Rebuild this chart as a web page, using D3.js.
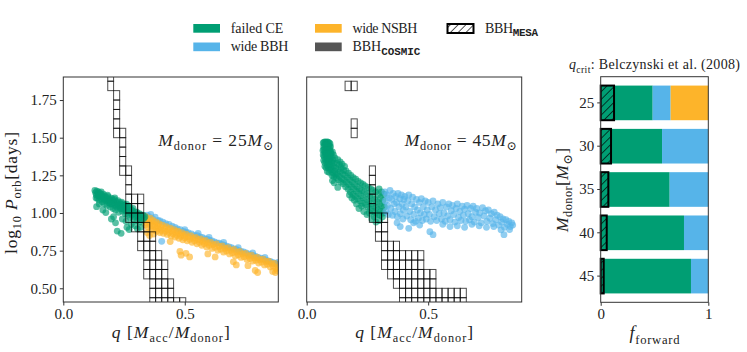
<!DOCTYPE html>
<html><head><meta charset="utf-8">
<script src="https://cdn.jsdelivr.net/npm/d3@7"></script>
<style>
body{margin:0;background:#fff}
text{fill:#222}
</style></head>
<body><svg id="chart" width="747" height="352"></svg>
<script>
// ---------------- DATA ----------------
const donorMasses = ["25","30","35","40","45"];
const fracMESA     = [0.124,0.096,0.071,0.056,0.028];
const fracFailedCE = [0.483,0.570,0.641,0.774,0.839];
const fracWideBBH  = [0.167,0.430,0.359,0.226,0.161];
const fracWideNSBH = [0.350,0.000,0.000,0.000,0.000];

const yTicksP = [0.50,0.75,1.00,1.25,1.50,1.75];
const yTickLabelsP = ["0.50","0.75","1.00","1.25","1.50","1.75"];
const xTicksQ = [0.0,0.5];
const xTickLabelsQ = ["0.0","0.5"];
const xTicksF = [0,1];
const xTickLabelsF = ["0","1"];

// M_donor = 25 Msun scatter [q, log10 P]
const m25FailedCE = [[0.130,1.150],[0.133,1.135],[0.136,1.120],[0.138,1.145],[0.140,1.100],[0.142,1.128],[0.145,1.140],[0.147,1.085],[0.150,1.112],[0.152,1.130],[0.137,1.042],[0.148,1.060],
[0.155,1.098],[0.158,1.120],[0.160,1.075],[0.163,1.108],[0.165,1.125],[0.168,1.090],[0.170,1.060],[0.172,1.112],[0.175,1.080],[0.178,1.100],[0.180,1.050],[0.183,1.085],[0.185,1.108],[0.188,1.068],[0.190,1.092],[0.193,1.040],[0.195,1.078],[0.198,1.098],[0.163,1.020],[0.175,1.003],
[0.200,1.060],[0.203,1.085],[0.205,1.030],[0.208,1.070],[0.210,1.090],[0.213,1.050],[0.215,1.020],[0.218,1.075],[0.220,1.040],[0.223,1.062],[0.225,1.082],[0.228,1.005],[0.230,1.048],[0.233,1.068],[0.235,1.030],[0.238,1.055],[0.240,1.072],[0.243,1.012],[0.245,1.040],[0.248,1.060],[0.207,0.975],[0.215,0.935],[0.238,0.865],[0.222,0.880],[0.198,0.960],[0.243,0.960],
[0.250,1.025],[0.253,1.050],[0.255,0.995],[0.258,1.035],[0.260,1.058],[0.263,1.015],[0.265,0.985],[0.268,1.040],[0.270,1.010],[0.273,1.030],[0.275,0.970],[0.278,1.000],[0.280,1.022],[0.283,0.990],[0.285,1.012],[0.288,0.960],[0.290,0.995],[0.293,1.008],[0.296,0.975],[0.300,0.990],[0.303,0.950],[0.306,0.982],[0.310,0.965],[0.313,0.995],[0.316,0.940],[0.320,0.975],[0.324,0.955],[0.328,0.985],[0.332,0.965],[0.336,0.975],[0.262,0.905],[0.271,0.890],[0.280,0.925],[0.295,0.915],[0.305,0.895],[0.318,0.905],[0.258,0.945],
[0.135,1.100],[0.144,1.115],[0.156,1.140],[0.167,1.100],[0.182,1.118],[0.196,1.060],[0.212,1.100],[0.227,1.050],[0.242,1.030],[0.257,1.015],[0.272,1.045],[0.287,1.030],[0.302,1.005],[0.318,0.988]];

const m25WideBBH = [[0.345,0.985],[0.352,0.975],[0.360,0.990],[0.368,0.962],[0.378,0.972],[0.390,0.950],[0.405,0.812],[0.398,0.948],[0.410,0.940],[0.422,0.930],[0.435,0.925],[0.448,0.912],[0.460,0.905],[0.470,0.895],[0.482,0.890],[0.495,0.878],[0.505,0.872],[0.515,0.868],[0.528,0.862],[0.540,0.852],[0.552,0.850],[0.562,0.842],[0.572,0.838],[0.582,0.830],[0.592,0.826],[0.602,0.820],[0.612,0.815],[0.622,0.808],[0.632,0.802],[0.642,0.800],[0.652,0.792],[0.662,0.786],[0.672,0.780],[0.682,0.775],[0.692,0.770],[0.702,0.762],[0.712,0.758],[0.722,0.752],[0.732,0.745],[0.742,0.742],[0.752,0.735],[0.762,0.728],[0.772,0.722],[0.782,0.718],[0.792,0.712],[0.802,0.705],[0.812,0.700],[0.822,0.695],[0.832,0.688],[0.842,0.682],[0.852,0.678],[0.862,0.672],[0.872,0.665],[0.880,0.660],[0.884,0.672],[0.600,0.838],[0.660,0.805],[0.720,0.770],[0.780,0.735],[0.830,0.705],[0.555,0.865],[0.500,0.890]];

const m25WideNSBH = [[0.335,0.950],[0.338,0.920],[0.340,0.975],[0.343,0.935],[0.346,0.960],[0.349,0.905],[0.352,0.945],[0.355,0.925],[0.358,0.965],[0.361,0.895],[0.364,0.940],[0.367,0.915],[0.370,0.950],[0.373,0.885],[0.376,0.925],[0.379,0.905],[0.382,0.940],[0.385,0.880],[0.388,0.915],[0.391,0.895],[0.394,0.930],[0.397,0.870],[0.400,0.905],[0.404,0.885],[0.408,0.920],[0.412,0.865],[0.416,0.898],[0.420,0.878],[0.424,0.910],[0.428,0.858],[0.432,0.890],[0.436,0.870],[0.440,0.900],[0.444,0.848],[0.448,0.880],[0.452,0.862],[0.456,0.890],[0.460,0.840],[0.464,0.872],[0.468,0.852],[0.472,0.880],[0.476,0.832],[0.480,0.862],[0.484,0.845],[0.488,0.870],[0.492,0.822],[0.496,0.852],[0.500,0.835],[0.505,0.860],[0.510,0.815],[0.515,0.842],[0.520,0.825],[0.525,0.850],[0.530,0.805],[0.535,0.832],[0.540,0.815],[0.545,0.838],[0.550,0.795],[0.555,0.822],[0.560,0.805],[0.565,0.828],[0.570,0.785],[0.575,0.812],[0.580,0.795],[0.585,0.818],[0.590,0.775],[0.595,0.800],[0.600,0.785],[0.606,0.806],[0.612,0.765],[0.618,0.790],[0.624,0.772],[0.630,0.795],[0.636,0.752],[0.642,0.778],[0.648,0.760],[0.654,0.782],[0.660,0.740],[0.666,0.765],[0.672,0.748],[0.678,0.770],[0.684,0.728],[0.690,0.752],[0.696,0.735],[0.702,0.758],[0.708,0.715],[0.714,0.740],[0.720,0.722],[0.726,0.745],[0.732,0.705],[0.738,0.728],[0.744,0.710],[0.750,0.732],[0.756,0.692],[0.762,0.715],[0.768,0.698],[0.774,0.720],[0.780,0.680],[0.786,0.702],[0.792,0.686],[0.798,0.706],[0.804,0.668],[0.810,0.690],[0.816,0.674],[0.822,0.694],[0.828,0.655],[0.834,0.678],[0.840,0.660],[0.846,0.680],[0.852,0.642],[0.858,0.664],[0.864,0.648],[0.870,0.665],[0.876,0.630],[0.880,0.618],[0.884,0.640],[0.873,0.605],[0.862,0.612],
[0.345,0.870],[0.372,0.860],[0.480,0.745],[0.485,0.720],[0.505,0.732],[0.520,0.708],[0.595,0.728],[0.700,0.676],[0.712,0.655],[0.790,0.618],[0.800,0.605],[0.355,0.850],[0.440,0.810],[0.625,0.708],[0.760,0.650]];

// M_donor = 45 Msun scatter [q, log10 P]
const m45FailedCE = [[0.068,1.465],[0.072,1.470],[0.076,1.472],[0.080,1.468],[0.084,1.472],[0.088,1.470],[0.092,1.465],[0.096,1.460],[0.070,1.440],[0.074,1.450],[0.078,1.445],[0.082,1.450],[0.086,1.442],[0.090,1.448],[0.094,1.440],[0.098,1.440],[0.067,1.415],[0.071,1.420],[0.075,1.405],[0.079,1.420],[0.083,1.410],[0.087,1.420],[0.091,1.415],[0.095,1.420],[0.099,1.405],[0.068,1.385],[0.072,1.375],[0.076,1.390],[0.080,1.380],[0.084,1.390],[0.088,1.375],[0.092,1.390],[0.096,1.380],[0.100,1.395],[0.070,1.350],[0.074,1.335],[0.078,1.355],[0.082,1.340],[0.086,1.355],[0.090,1.340],[0.094,1.355],[0.098,1.345],[0.102,1.370],[0.075,1.310],[0.080,1.300],[0.085,1.315],[0.090,1.300],[0.095,1.320],[0.100,1.305],[0.104,1.335],[0.108,1.350],[0.085,1.275],[0.092,1.270],[0.098,1.285],[0.104,1.290],[0.110,1.310],[0.112,1.330],[0.116,1.365],[0.106,1.405],[0.110,1.385],
[0.104,1.250],[0.108,1.265],[0.112,1.240],[0.116,1.280],[0.120,1.300],[0.124,1.330],[0.128,1.355],[0.118,1.255],[0.122,1.235],[0.126,1.260],[0.130,1.290],[0.134,1.320],[0.138,1.340],[0.130,1.220],[0.134,1.245],[0.138,1.275],[0.142,1.300],[0.146,1.325],[0.140,1.205],[0.144,1.230],[0.148,1.260],[0.152,1.285],[0.156,1.310],[0.150,1.195],[0.154,1.220],[0.158,1.250],[0.162,1.280],[0.160,1.175],[0.113,1.200],[0.128,1.170],[0.106,1.215],
[0.164,1.205],[0.168,1.235],[0.172,1.265],[0.170,1.160],[0.174,1.190],[0.178,1.220],[0.182,1.250],[0.180,1.140],[0.184,1.175],[0.188,1.205],[0.192,1.235],[0.190,1.125],[0.194,1.160],[0.198,1.190],[0.202,1.225],[0.200,1.110],[0.204,1.145],[0.208,1.175],[0.212,1.210],[0.210,1.095],[0.214,1.130],[0.218,1.160],[0.222,1.200],[0.220,1.080],[0.224,1.115],[0.228,1.150],[0.232,1.190],[0.230,1.065],[0.234,1.100],[0.238,1.140],[0.240,1.180],[0.186,1.100],[0.205,1.060],[0.226,1.046],[0.176,1.120],[0.196,1.085],[0.215,1.030],
[0.242,1.055],[0.246,1.090],[0.250,1.130],[0.254,1.170],[0.252,1.040],[0.256,1.075],[0.260,1.115],[0.264,1.160],[0.262,1.025],[0.266,1.060],[0.270,1.100],[0.274,1.150],[0.272,1.010],[0.276,1.045],[0.280,1.090],[0.284,1.140],[0.282,1.000],[0.286,1.035],[0.290,1.075],[0.294,1.120],[0.298,1.160],[0.292,0.990],[0.296,1.020],[0.300,1.060],[0.304,1.100],[0.308,1.140],[0.302,0.985],[0.306,1.010],[0.310,1.045],[0.314,1.085],[0.318,1.125],[0.312,0.975],[0.316,1.000],[0.320,1.040],[0.248,0.990],[0.268,0.960],[0.285,0.940],[0.300,0.950],[0.258,1.000],[0.278,0.975],[0.235,1.010]];

const m45WideBBH = [[0.322,1.140],[0.324,1.080],[0.326,1.010],[0.330,1.120],[0.333,1.050],[0.336,0.990],[0.340,1.100],[0.343,1.150],[0.346,1.030],[0.350,1.090],[0.353,0.985],[0.356,1.130],[0.360,1.060],[0.363,1.010],[0.366,1.110],[0.370,1.070],[0.373,0.975],[0.376,1.130],[0.380,1.040],[0.383,1.095],[0.386,0.995],[0.390,1.120],[0.393,1.060],[0.396,0.960],[0.400,1.090],[0.372,0.935],[0.385,0.910],[0.398,1.020],
[0.404,1.110],[0.408,1.040],[0.412,0.980],[0.416,1.080],[0.420,1.120],[0.424,1.010],[0.428,0.955],[0.432,1.060],[0.436,1.105],[0.440,0.990],[0.444,1.040],[0.448,0.945],[0.452,1.090],[0.456,1.020],[0.460,0.965],[0.464,1.070],[0.468,1.000],[0.472,1.095],[0.476,0.950],[0.480,1.040],[0.484,0.990],[0.488,1.080],[0.492,0.960],[0.496,1.020],[0.420,0.898],[0.440,0.935],[0.465,0.920],
[0.500,1.070],[0.505,0.990],[0.510,0.945],[0.515,1.040],[0.520,1.080],[0.525,0.975],[0.530,1.020],[0.535,0.950],[0.540,1.060],[0.545,0.995],[0.550,1.035],[0.555,0.960],[0.560,1.070],[0.565,1.000],[0.570,0.945],[0.575,1.040],[0.580,0.980],[0.585,1.060],[0.590,0.955],[0.595,1.015],[0.507,0.876],[0.520,0.856],[0.560,0.925],[0.590,0.910],
[0.600,1.050],[0.605,0.990],[0.610,0.940],[0.615,1.030],[0.620,1.060],[0.625,0.970],[0.630,1.010],[0.635,0.950],[0.640,1.045],[0.645,0.985],[0.650,1.025],[0.655,0.945],[0.660,1.050],[0.665,0.995],[0.670,0.955],[0.675,1.030],[0.680,0.975],[0.685,1.045],[0.690,0.940],[0.695,1.005],[0.620,0.915],[0.650,0.905],[0.680,0.925],
[0.700,1.030],[0.706,0.970],[0.712,1.000],[0.718,0.935],[0.724,1.035],[0.730,0.980],[0.736,1.015],[0.742,0.945],[0.748,1.020],[0.754,0.965],[0.760,0.995],[0.766,0.930],[0.772,1.005],[0.778,0.955],[0.784,0.985],[0.790,0.920],[0.796,0.975],[0.802,0.940],[0.808,0.960],[0.814,0.905],[0.820,0.955],[0.826,0.925],[0.832,0.945],[0.838,0.910],[0.844,0.935],[0.848,0.920],[0.812,0.856],[0.800,0.888],[0.770,0.910],[0.740,0.905],[0.710,0.915],[0.835,0.890]];

// COSMIC BBH 2D histogram: q bin edges, log10 P bin height, occupied rows [pLow, firstBin, lastBin]
const cosmicPBin = 0.0625;
const cosmic25QEdges = [0.183,0.207,0.232,0.257,0.281,0.306,0.331,0.356,0.380,0.405,0.430,0.454,0.479,0.504];
const cosmic25Rows = [[0.375,7,12],[0.4375,7,10],[0.5,7,10],[0.5625,6,9],[0.625,6,9],[0.6875,6,8],[0.75,5,7],[0.8125,5,7],[0.875,4,6],[0.9375,3,5],[1.0,3,5],[1.0625,3,5],[1.125,3,3],[1.1875,3,3],[1.25,2,3],[1.3125,2,2],[1.375,2,2],[1.4375,2,2],[1.5,1,2],[1.5625,1,1],[1.625,1,1],[1.6875,1,1],[1.75,1,1],[1.8125,0,0],[1.875,0,0]];
const cosmic45QEdges = [0.158,0.183,0.208,0.233,0.258,0.283,0.308,0.333,0.357,0.382,0.407,0.432,0.457,0.482,0.507,0.532,0.557,0.582,0.607,0.632,0.657];
const cosmic45Rows = [[0.375,9,19],[0.4375,9,19],[0.5,8,14],[0.5625,7,14],[0.625,6,12],[0.6875,6,12],[0.75,6,8],[0.8125,5,6],[0.875,5,6],[0.9375,4,6],[1.0,4,4],[1.0625,4,4],[1.125,4,4],[1.1875,4,4],[1.25,4,4],[1.5,1,1],[1.5625,1,1],[1.8125,0,1]];

// ---------------- STYLE ----------------
const C_GREEN="#009E73", C_BLUE="#56B4E9", C_ORANGE="#FDB42A", C_GREY="#555555", C_AX="#333";
const SERIF="'Liberation Serif','DejaVu Serif',serif";
const MONO="'Liberation Mono','DejaVu Sans Mono',monospace";

const svg = d3.select("#chart");
const defs = svg.append("defs");
const pat = defs.append("pattern").attr("id","hatch").attr("patternUnits","userSpaceOnUse")
  .attr("width",5.5).attr("height",5.5).attr("patternTransform","rotate(45)");
pat.append("line").attr("x1",0).attr("y1",0).attr("x2",0).attr("y2",5.5).attr("stroke","#000").attr("stroke-width",1.3);

function rich(sel, parts, size, len){
  sel.attr("font-family",SERIF).attr("fill","#222");
  let sub=false;
  parts.forEach(p=>{
    const ts = sel.append("tspan").text(p.t).attr("font-family",p.mono?MONO:SERIF);
    const isSub=!!p.sub;
    if(isSub!==sub){ ts.attr("dy", isSub? size*0.25 : -size*0.25); sub=isSub; }
    ts.attr("font-size", isSub? size*(p.mono?0.78:0.7) : size);
    if(p.i) ts.attr("font-style","italic");
    if(p.mono) ts.attr("font-weight","bold");
  });
  if(len) sel.attr("textLength",len).attr("lengthAdjust","spacing");
  return sel;
}
function styleTicks(a){
  a.attr("font-family",SERIF);
  a.select(".domain").remove();
  a.selectAll("line").attr("stroke",C_AX);
  a.selectAll("text").attr("font-size",15).attr("fill","#222").attr("font-family",SERIF);
}

// ---------------- SCATTER PANELS ----------------
const yP = d3.scaleLinear().domain([0.409,1.903]).range([302,77]);
function scatterPanel(id, x0, x1, sets, hist, showY, annotation, annLen){
  const x = d3.scaleLinear().domain([0,0.885]).range([x0,x1]);
  const g = svg.append("g");
  defs.append("clipPath").attr("id","clip"+id).append("rect")
    .attr("x",x0).attr("y",77).attr("width",x1-x0).attr("height",225);
  const pg = g.append("g").attr("clip-path","url(#clip"+id+")");
  sets.forEach(s=>{
    pg.append("g").selectAll("circle").data(s.data).join("circle")
      .attr("cx",d=>x(d[0])).attr("cy",d=>yP(d[1])).attr("r",3.4)
      .attr("fill",s.color).attr("fill-opacity",0.65);
  });
  const cells=[];
  hist.rows.forEach(r=>{ for(let k=r[1];k<=r[2];k++) cells.push({q0:hist.edges[k],q1:hist.edges[k+1],p0:r[0],p1:r[0]+cosmicPBin}); });
  pg.append("g").selectAll("rect").data(cells).join("rect")
    .attr("x",d=>x(d.q0)).attr("width",d=>x(d.q1)-x(d.q0))
    .attr("y",d=>yP(d.p1)).attr("height",d=>yP(d.p0)-yP(d.p1))
    .attr("fill","none").attr("stroke","#000").attr("stroke-opacity",0.7).attr("stroke-width",1);
  const xa = g.append("g").attr("transform","translate(0,302)")
    .call(d3.axisBottom(x).tickValues(xTicksQ).tickSize(3.5).tickFormat((d,i)=>xTickLabelsQ[i]));
  styleTicks(xa);
  xa.selectAll("text").attr("y",6).attr("dy","0.71em");
  if(showY){
    const ya = g.append("g").attr("transform",`translate(${x0},0)`)
      .call(d3.axisLeft(yP).tickValues(yTicksP).tickSize(3.5).tickFormat((d,i)=>yTickLabelsP[i]));
    styleTicks(ya);
    ya.selectAll("text").attr("x",-6.5);
  }
  g.append("rect").attr("x",x0).attr("y",77).attr("width",x1-x0).attr("height",225)
    .attr("fill","none").attr("stroke",C_AX).attr("stroke-width",1);
  const at = g.append("text").attr("x",x1-5).attr("y",146).attr("text-anchor","end");
  rich(at,[{t:"M",i:1},{t:"donor",sub:1},{t:" = "+annotation},{t:"M",i:1},{t:"\u2299",sub:1}],17.5,annLen);
  const xl = g.append("text").attr("x",(x0+x1)/2).attr("y",338).attr("text-anchor","middle");
  rich(xl,[{t:"q",i:1},{t:"  ["},{t:"M",i:1},{t:"acc",sub:1},{t:"/"},{t:"M",i:1},{t:"donor",sub:1},{t:"]"}],17.5,118);
  return x;
}

scatterPanel("a",63.3,278.3,
  [{data:m25WideBBH,color:C_BLUE},{data:m25WideNSBH,color:C_ORANGE},{data:m25FailedCE,color:C_GREEN}],
  {edges:cosmic25QEdges,rows:cosmic25Rows}, true, "25", 115);
scatterPanel("b",306.7,521.7,
  [{data:m45FailedCE,color:C_GREEN},{data:m45WideBBH,color:C_BLUE}],
  {edges:cosmic45QEdges,rows:cosmic45Rows}, false, "45", 112);

const yl = svg.append("text").attr("transform","translate(17,193) rotate(-90)").attr("text-anchor","middle");
rich(yl,[{t:"log"},{t:"10",sub:1},{t:" P",i:1},{t:"orb",sub:1},{t:"[days]"}],17.5,122);

// ---------------- BAR PANEL ----------------
const xF = d3.scaleLinear().domain([0,1]).range([600.7,708.3]);
const yM = d3.scaleBand().domain(donorMasses).range([76.7,302.3]).paddingInner(0.2).paddingOuter(0.205);
const bg = svg.append("g");
const segs=[];
donorMasses.forEach((m,i)=>{
  const a=fracFailedCE[i], b=a+fracWideBBH[i], c=b+fracWideNSBH[i];
  segs.push({m,x0:0,x1:a,color:C_GREEN});
  segs.push({m,x0:a,x1:b,color:C_BLUE});
  if(fracWideNSBH[i]>0) segs.push({m,x0:b,x1:c,color:C_ORANGE});
});
bg.selectAll("rect.seg").data(segs).join("rect").attr("class","seg")
  .attr("x",d=>xF(d.x0)).attr("width",d=>xF(d.x1)-xF(d.x0))
  .attr("y",d=>yM(d.m)).attr("height",yM.bandwidth()).attr("fill",d=>d.color);
bg.selectAll("rect.mesa").data(donorMasses).join("rect").attr("class","mesa")
  .attr("x",xF(0)).attr("width",(d,i)=>xF(fracMESA[i])-xF(0))
  .attr("y",d=>yM(d)).attr("height",yM.bandwidth())
  .attr("fill","url(#hatch)").attr("stroke","#000").attr("stroke-width",2);
const xaF = bg.append("g").attr("transform","translate(0,302.3)")
  .call(d3.axisBottom(xF).tickValues(xTicksF).tickSize(3.5).tickFormat((d,i)=>xTickLabelsF[i]));
styleTicks(xaF);
xaF.selectAll("text").attr("y",6).attr("dy","0.71em");
const yaM = bg.append("g").attr("transform","translate(600.7,0)").call(d3.axisLeft(yM).tickSize(3.5));
styleTicks(yaM);
yaM.selectAll("text").attr("x",-6.5);
bg.append("rect").attr("x",600.7).attr("y",76.7).attr("width",107.6).attr("height",225.6)
  .attr("fill","none").attr("stroke",C_AX).attr("stroke-width",1);
const tt = bg.append("text").attr("x",654.5).attr("y",69).attr("text-anchor","middle");
rich(tt,[{t:"q",i:1},{t:"crit",sub:1},{t:": Belczynski et al. (2008)"}],14,171);
const fl = bg.append("text").attr("x",654.5).attr("y",339).attr("text-anchor","middle");
rich(fl,[{t:"f",i:1},{t:"forward",sub:1}],18,50);
const ml = bg.append("text").attr("transform","translate(568,190) rotate(-90)").attr("text-anchor","middle");
rich(ml,[{t:"M",i:1},{t:"donor",sub:1},{t:"["},{t:"M",i:1},{t:"\u2299",sub:1},{t:"]"}],17.5,84);

// ---------------- LEGEND ----------------
const legendItems = [
  {x:193.3,y:24,fill:C_GREEN,label:[{t:"failed CE"}],len:52.7},
  {x:193.3,y:42.5,fill:C_BLUE,label:[{t:"wide BBH"}],len:57.7},
  {x:315,y:24,fill:C_ORANGE,label:[{t:"wide NSBH"}],len:65},
  {x:315,y:42.5,fill:C_GREY,label:[{t:"BBH"},{t:"COSMIC",sub:1,mono:1}],len:68},
  {x:447.5,y:24,fill:"url(#hatch)",stroke:1,label:[{t:"BBH"},{t:"MESA",sub:1,mono:1}],len:53}
];
const lg = svg.append("g");
legendItems.forEach(it=>{
  lg.append("rect").attr("x",it.x).attr("y",it.y).attr("width",it.stroke?26:26.7).attr("height",it.stroke?9:8.7)
    .attr("fill",it.fill).attr("stroke",it.stroke?"#000":"none").attr("stroke-width",it.stroke?2:0);
  const t = lg.append("text").attr("x",it.x+(it.stroke?37.5:37.4)).attr("y",it.y+8.6);
  rich(t,it.label,14,it.len);
});
</script></body></html>
